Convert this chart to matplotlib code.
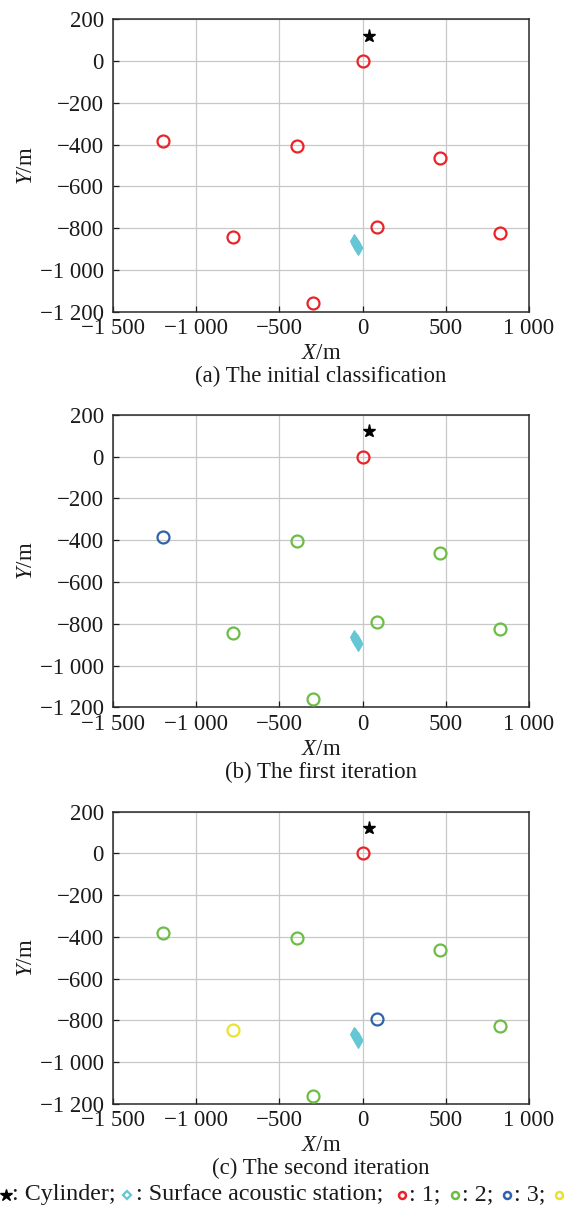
import numpy as np
import matplotlib
matplotlib.use('Agg')
from matplotlib import pyplot as pl
from matplotlib.lines import Line2D
from matplotlib.offsetbox import HPacker, TextArea, DrawingArea, AnchoredOffsetbox
from matplotlib.ticker import FixedLocator, FuncFormatter

pl.rcParams['font.family'] = ['Liberation Serif', 'DejaVu Serif']
pl.rcParams['mathtext.fontset'] = 'custom'
pl.rcParams['mathtext.it'] = 'Liberation Serif:italic'
pl.rcParams['mathtext.rm'] = 'Liberation Serif'

# node positions (m)
node_x = [0, -1200, -395, 462, -780, 88, 827, -298]
node_y = [0, -383, -406, -463, -844, -793, -825, -1160]

# cylinder and surface station track
cyl_x, cyl_y = 38, 122
station_x = [-50, -45, -40, -35, -30, -25]
station_y = [-864, -871, -878, -885, -891, -897]

# class of each node per step
labels_init = [1, 1, 1, 1, 1, 1, 1, 1]
labels_iter1 = [1, 3, 2, 2, 2, 2, 2, 2]
labels_iter2 = [1, 2, 2, 2, 4, 3, 2, 2]
captions = ['(a) The initial classification', '(b) The first iteration', '(c) The second iteration']

class_colors = {1: '#ec2227', 2: '#6cbd45', 3: '#2d63ad', 4: '#e6e336'}
cyan = '#64c7d3'
ink = '#1a1a1a'
fs = 16.5

def fmt(v, pos):
    s = '%d' % abs(v)
    if len(s) > 3:
        s = s[:-3] + ' ' + s[-3:]
    return ('\u2212' if v < 0 else '') + s

fig = pl.figure(figsize=(5.64, 12.08), dpi=100)
bottoms = [0.7420, 0.4145, 0.0861]
for k, labels in enumerate([labels_init, labels_iter1, labels_iter2]):
    ax = fig.add_axes([0.2004, bottoms[k], 0.7376, 0.2421])
    ax.plot(station_x, station_y, 'd', color=cyan, markersize=7, markeredgewidth=0.8, zorder=3)
    for c in sorted(set(labels)):
        xs = [x for x, l in zip(node_x, labels) if l == c]
        ys = [y for y, l in zip(node_y, labels) if l == c]
        ax.plot(xs, ys, 'o', markerfacecolor='none', markeredgecolor=class_colors[c],
                markersize=8.6, markeredgewidth=1.6, zorder=4)
    ax.plot(cyl_x, cyl_y, '*', color='black', markersize=9.5, zorder=5)
    ax.set_xlim(-1500, 1000)
    ax.set_ylim(-1200, 200)
    ax.xaxis.set_major_locator(FixedLocator([-1500, -1000, -500, 0, 500, 1000]))
    ax.yaxis.set_major_locator(FixedLocator([-1200, -1000, -800, -600, -400, -200, 0, 200]))
    ax.xaxis.set_major_formatter(FuncFormatter(fmt))
    ax.yaxis.set_major_formatter(FuncFormatter(fmt))
    ax.tick_params(direction='in', length=4, width=0.9, labelsize=fs, colors=ink)
    ax.tick_params(axis='y', pad=6.5)
    ax.tick_params(axis='x', pad=4.5)
    ax.grid(True, color='#c8c8c8', linewidth=0.9)
    ax.set_axisbelow(True)
    for sp in ax.spines.values():
        sp.set_linewidth(1.1)
        sp.set_color('#2a2a2a')
    ax.set_xlabel('$X$/m', fontsize=fs, labelpad=3, color=ink)
    ax.set_ylabel('$Y$/m', fontsize=fs, labelpad=2, color=ink)
    ax.text(0.5, -0.222, captions[k], transform=ax.transAxes, ha='center', va='center',
            fontsize=fs, color=ink)

# key line at the bottom
def marker_box(width, pos, marker, **kw):
    da = DrawingArea(width, 10, 0, 0)
    da.add_artist(Line2D([pos], [5], marker=marker, linestyle='none', **kw))
    return da

def txt(s):
    return TextArea(s, textprops=dict(fontsize=17.3, color=ink))

ring = dict(markerfacecolor='none', markersize=5, markeredgewidth=1.8)
items = [
    marker_box(9, 4, '*', color='black', markersize=9),
    txt(': Cylinder;'),
    marker_box(14, 8, 'D', markerfacecolor='none', markeredgecolor=cyan,
               markersize=4.5, markeredgewidth=1.6),
    txt(': Surface acoustic station;'),
    marker_box(19, 14, 'o', markeredgecolor=class_colors[1], **ring),
    txt(': 1;'),
    marker_box(15, 10, 'o', markeredgecolor=class_colors[2], **ring),
    txt(': 2;'),
    marker_box(15, 10, 'o', markeredgecolor=class_colors[3], **ring),
    txt(': 3;'),
    marker_box(15, 10, 'o', markeredgecolor=class_colors[4], **ring),
    txt(': 4'),
]
box = HPacker(children=items, align='center', pad=0, sep=0)
anc = AnchoredOffsetbox(loc='center left', child=box, pad=0, borderpad=0, frameon=False,
                        bbox_to_anchor=(0.0, 0.0108), bbox_transform=fig.transFigure)
fig.add_artist(anc)

pl.savefig('out.png', dpi=100)
